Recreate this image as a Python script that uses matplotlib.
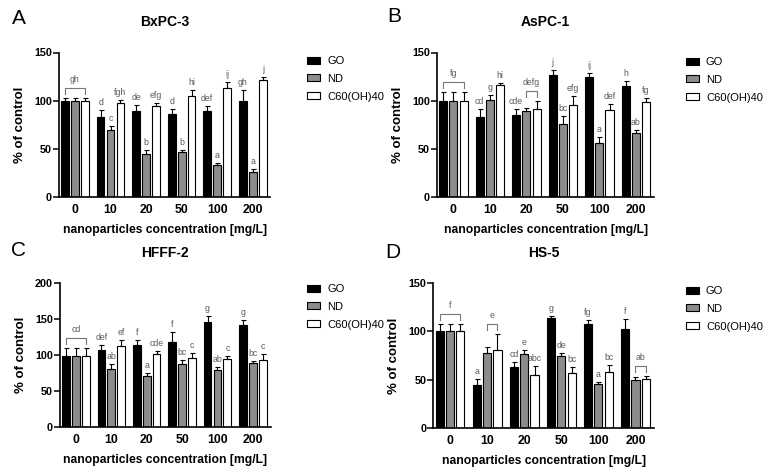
import numpy as np
import matplotlib
matplotlib.use('Agg')
import matplotlib.pyplot as plt
from matplotlib.patches import Patch

plt.rcParams['font.family'] = ['Liberation Sans', 'DejaVu Sans']

conc = ['0', '10', '20', '50', '100', '200']
series = ['GO', 'ND', 'C60(OH)40']

# A - BxPC-3
bx_go = [100, 83, 89, 86, 89, 100]
bx_go_err = [3, 7, 7, 5, 5, 11]
bx_nd = [100, 70, 45, 47, 33, 26]
bx_nd_err = [3, 4, 3.5, 2, 2, 3]
bx_c60 = [100, 98, 94, 105, 113, 121]
bx_c60_err = [3, 3, 4, 6, 6.5, 3.5]
bx_go_lab = [None, 'd', 'de', 'd', 'def', 'gh']
bx_nd_lab = [None, 'c', 'b', 'b', 'a', 'a']
bx_c60_lab = [None, 'fgh', 'efg', 'hi', 'ij', 'j']
bx_brackets = [(0, 0, 2, 'gh')]

# B - AsPC-1
as_go = [100, 83, 85, 127, 125, 115]
as_go_err = [9, 8, 6, 5, 3.5, 5]
as_nd = [100, 101, 89.5, 76, 56, 66.5]
as_nd_err = [9, 5, 3, 8, 6, 3.5]
as_c60 = [100, 116, 91, 95, 90, 99]
as_c60_err = [9, 2, 9, 10, 7, 4]
as_go_lab = [None, 'cd', 'cde', 'j', 'ij', 'h']
as_nd_lab = [None, 'g', None, 'bc', 'a', 'ab']
as_c60_lab = [None, 'hi', None, 'efg', 'def', 'fg']
as_brackets = [(0, 0, 2, 'fg'), (2, 1, 2, 'defg')]

# C - HFFF-2
hf_go = [99, 107, 114, 117.5, 146, 141]
hf_go_err = [10, 6, 6, 14, 7.5, 7.5]
hf_nd = [99, 81, 71, 88, 79, 89]
hf_nd_err = [10, 6, 4, 4.5, 4.5, 2.7]
hf_c60 = [99, 112, 100.5, 95, 94.5, 93.5]
hf_c60_err = [10, 9, 4.5, 8, 3.5, 7]
hf_go_lab = [None, 'def', 'f', 'f', 'g', 'g']
hf_nd_lab = [None, 'ab', 'a', 'bc', 'ab', 'bc']
hf_c60_lab = [None, 'ef', 'cde', 'c', 'c', 'c']
hf_brackets = [(0, 0, 2, 'cd')]

# D - HS-5
hs_go = [100, 44.5, 63, 113.5, 107.5, 102.5]
hs_go_err = [7, 6, 5, 2.6, 4.5, 10]
hs_nd = [100, 77, 76, 74, 45.5, 49.5]
hs_nd_err = [7, 7, 5, 3, 2, 3]
hs_c60 = [100, 81, 55, 57, 57.5, 50.5]
hs_c60_err = [7, 16.5, 9, 6, 8, 3]
hs_go_lab = [None, 'a', 'cd', 'g', 'fg', 'f']
hs_nd_lab = [None, None, 'e', 'de', 'a', None]
hs_c60_lab = [None, None, 'abc', 'bc', 'bc', None]
hs_brackets = [(0, 0, 2, 'f'), (1, 1, 2, 'e'), (5, 1, 2, 'ab')]

W, H = 771, 472
colors = ['black', '#8c8c8c', 'white']
ann_col = '#5a5a5a'

fig = plt.figure(figsize=(W / 100, H / 100), dpi=100)


def px_axes(l, t, r, b):
    return fig.add_axes([l / W, 1 - b / H, (r - l) / W, (b - t) / H])


def panel(box, letter, title, means, errs, labs, brackets, ymax, step, legend_xy, letter_xy):
    l, t, r, b = box
    ax = px_axes(l, t, r, b)
    x = np.arange(len(conc))
    offs = [-0.28, 0, 0.28]
    unit = ymax / (b - t)   # data units per pixel
    tops = []
    for i in range(3):
        m = np.array(means[i])
        e = np.array(errs[i])
        ax.bar(x + offs[i], m, width=0.22, color=colors[i], edgecolor='black',
               linewidth=0.8, zorder=2)
        ax.errorbar(x + offs[i], m, yerr=[np.zeros_like(e), e], fmt='none',
                    ecolor='black', elinewidth=0.8, capsize=1.8, capthick=0.8, zorder=3)
        tops.append(m + e)
        for j, s in enumerate(labs[i]):
            if s:
                ax.text(x[j] + offs[i], m[j] + e[j] + 3 * unit, s, ha='center', va='bottom',
                        fontsize=6.3, color=ann_col)
    for g, i0, i1, s in brackets:
        top = max(tops[k][g] for k in range(i0, i1 + 1)) + 10 * unit
        x0, x1 = g + offs[i0], g + offs[i1]
        ax.plot([x0, x0, x1, x1], [top - 6 * unit, top, top, top - 6 * unit],
                color='#777777', lw=0.8, zorder=3)
        ax.text((x0 + x1) / 2, top + 4 * unit, s, ha='center', va='bottom',
                fontsize=6.3, color=ann_col)

    ax.set_xlim(-0.45, 5.5)
    ax.set_ylim(0, ymax)
    ax.set_yticks(np.arange(0, ymax + 1, step))
    ax.set_xticks(x)
    ax.set_xticklabels(conc, fontsize=8.8, fontweight='bold')
    for tl in ax.get_yticklabels():
        tl.set_fontsize(7.8)
        tl.set_fontweight('bold')
    ax.tick_params(axis='x', length=0, pad=5)
    ax.tick_params(axis='y', length=4, width=1.1, pad=1)
    for sp in ['top', 'right']:
        ax.spines[sp].set_visible(False)
    ax.spines['left'].set_linewidth(1.2)
    ax.spines['bottom'].set_linewidth(1.2)
    ax.set_ylabel('% of control', fontsize=9.5, fontweight='bold')
    ax.yaxis.set_label_coords(-33 / (r - l), 0.5)
    ax.set_xlabel('nanoparticles concentration [mg/L]', fontsize=8.7, fontweight='bold')
    ax.xaxis.set_label_coords(0.5, -27 / (b - t))

    fig.text((l + r) / 2 / W, 1 - (t - 30) / H, title, ha='center', va='center',
             fontsize=10, fontweight='bold')
    fig.text(letter_xy[0] / W, 1 - letter_xy[1] / H, letter, ha='center', va='center',
             fontsize=15)

    handles = [Patch(facecolor=colors[i], edgecolor='black', linewidth=0.8) for i in range(3)]
    ax.legend(handles, series, loc='upper left', frameon=False,
              bbox_to_anchor=(legend_xy[0] / W, 1 - legend_xy[1] / H),
              bbox_transform=fig.transFigure, borderpad=0, borderaxespad=0,
              fontsize=8, handlelength=1.2, handleheight=0.6,
              handletextpad=0.6, labelspacing=0.7)
    return ax


panel((59, 52.5, 270.5, 197), 'A', 'BxPC-3',
      [bx_go, bx_nd, bx_c60], [bx_go_err, bx_nd_err, bx_c60_err],
      [bx_go_lab, bx_nd_lab, bx_c60_lab], bx_brackets, 150, 50, (307, 56), (19, 18))
panel((437, 52.5, 654, 197), 'B', 'AsPC-1',
      [as_go, as_nd, as_c60], [as_go_err, as_nd_err, as_c60_err],
      [as_go_lab, as_nd_lab, as_c60_lab], as_brackets, 150, 50, (686, 57), (394, 17))
panel((60, 282.7, 270.5, 427), 'C', 'HFFF-2',
      [hf_go, hf_nd, hf_c60], [hf_go_err, hf_nd_err, hf_c60_err],
      [hf_go_lab, hf_nd_lab, hf_c60_lab], hf_brackets, 200, 50, (307, 284), (18, 251))
panel((433.3, 282.7, 654, 428), 'D', 'HS-5',
      [hs_go, hs_nd, hs_c60], [hs_go_err, hs_nd_err, hs_c60_err],
      [hs_go_lab, hs_nd_lab, hs_c60_lab], hs_brackets, 150, 50, (686, 286), (393, 253))

fig.savefig('out.png', dpi=100)
